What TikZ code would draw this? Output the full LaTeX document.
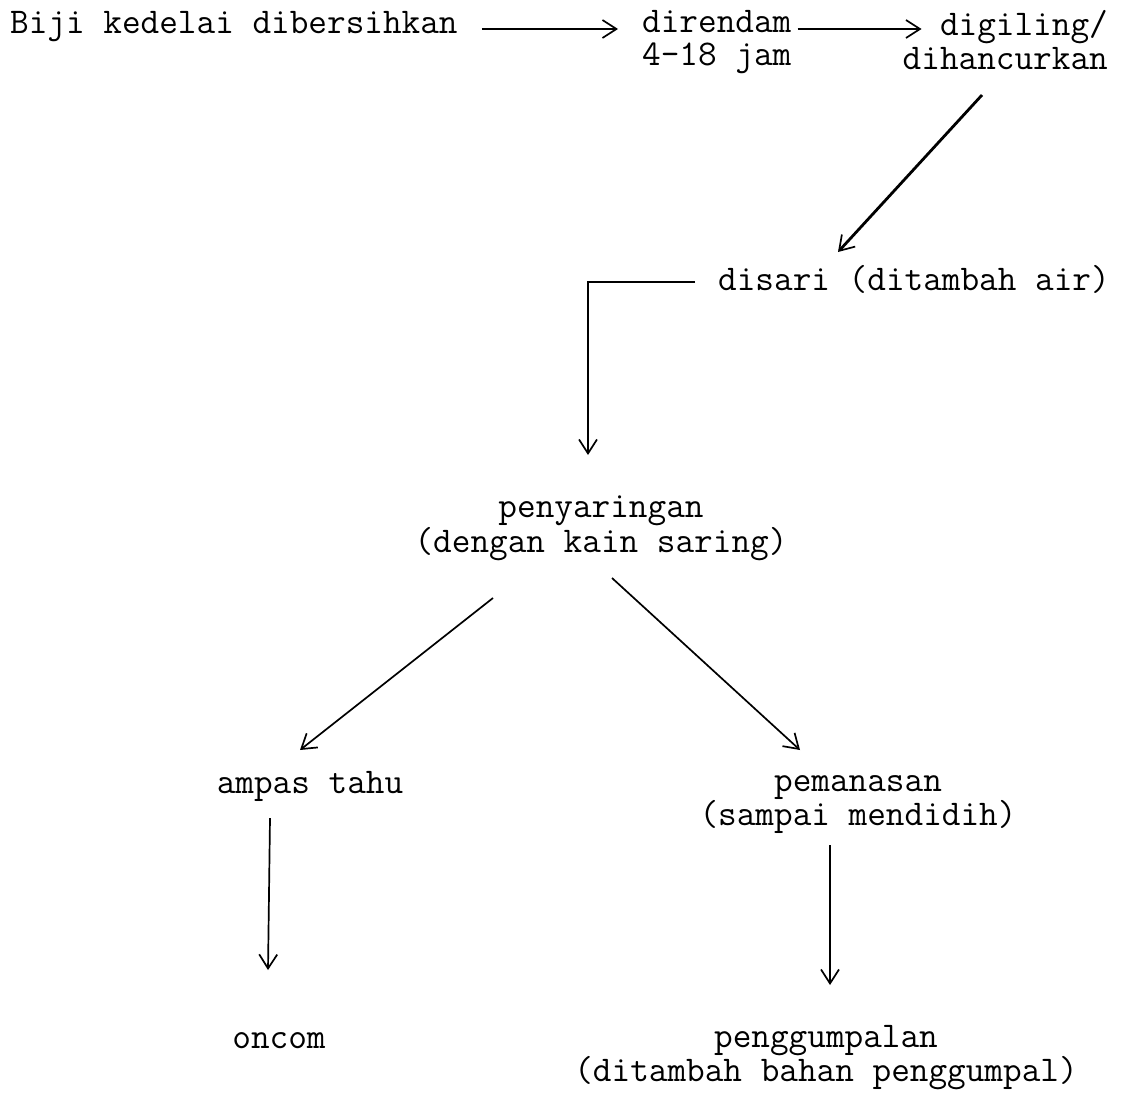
\documentclass[tikz,border=0pt]{standalone}
\usepackage{fontspec}
\usetikzlibrary{arrows.meta}
\tikzset{
	lbl/.style={inner sep=0pt, font=\ttfamily\fontsize{36.2}{30}\selectfont},
	flow/.style={line width=1.7pt, -{Straight Barb[length=14pt,width=18pt,line width=1.7pt]}},
	heavy/.style={flow, line width=2.8pt}
}

\begin{document}
\begin{tikzpicture}[x=1pt, y=-1pt]
				\useasboundingbox (0,0) rectangle (1131,1092);
				
				\node[lbl, anchor=base west] (soy) at (10,33) {Biji kedelai dibersihkan};
				\node[lbl, anchor=north west, align=left] (soak) at (642,10) {direndam\\[3pt]4-18 jam};
				\node[lbl, anchor=north east, align=right] (grind) at (1108,10) {digiling/\\[3pt]dihancurkan};
				
				\node[lbl, anchor=base west] (mix) at (718,290) {disari (ditambah air)};
				\node[lbl, anchor=north, align=center] (filter) at (601,496) {penyaringan\\(dengan kain saring)};
				
				\node[lbl, anchor=base] (pulp) at (310,793) {ampas tahu};
				\node[lbl, anchor=north, align=center] (heat) at (858,775) {pemanasan\\(sampai mendidih)};
				
				\node[lbl, anchor=base] (oncom) at (279,1048) {oncom};
				\node[lbl, anchor=north, align=center] (curd) at (826,1025) {penggumpalan\\(ditambah bahan penggumpal)};
				
				% top row
				\draw[flow, line width=1.4pt] ([shift={(24,-4)}]soy.base east) -- ([shift={(-24,19)}]soak.north west);
				\draw[flow, line width=1.4pt] ([shift={(6,19)}]soak.north east) -- ([shift={(19,19)}]grind.north west);
				\draw[heavy] ([shift={(-126,85)}]grind.north east) -- ([shift={(120,-38)}]mix.base west);
				
				\draw[flow] ([shift={(-23,-8)}]mix.base west) -| ([shift={(-13,-41)}]filter.north);
				
				\draw[flow] ([shift={(-108,102)}]filter.north) -- ([shift={(-10,-43)}]pulp.base);
				\draw[flow] ([shift={(11,82)}]filter.north) -- ([shift={(-58,-25)}]heat.north);
				
				\draw[flow] ([shift={(-40,25)}]pulp.base) -- ([shift={(-11,-78)}]oncom.base);
				\draw[flow] ([shift={(-28,70)}]heat.north) -- ([shift={(4,-40)}]curd.north);
\end{tikzpicture}
\end{document}
